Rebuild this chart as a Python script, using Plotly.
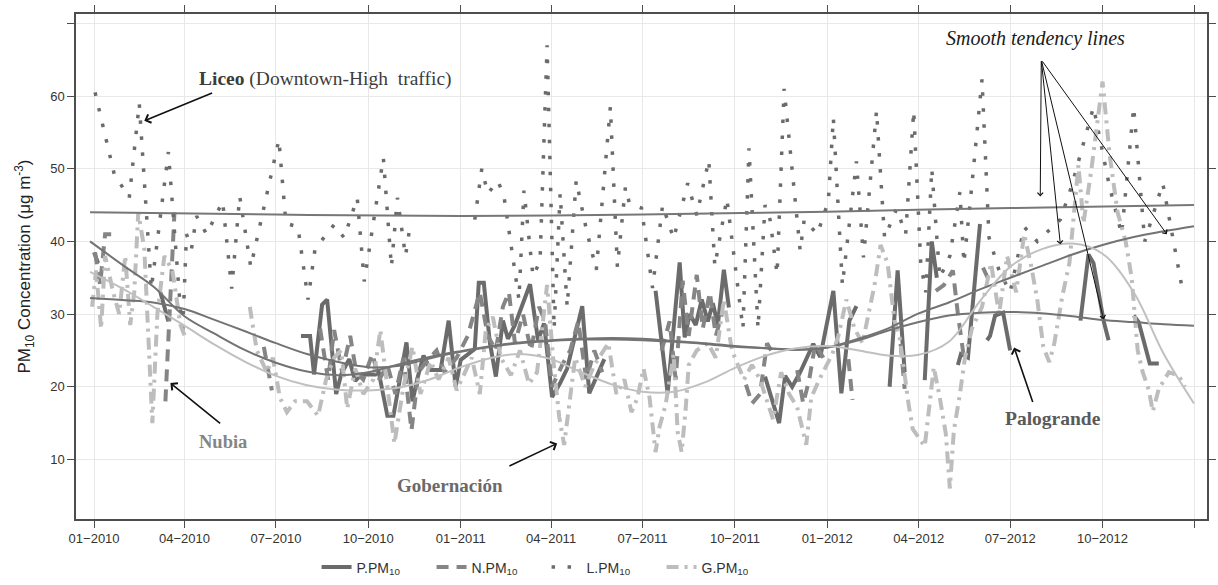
import plotly.graph_objects as go

# ---------------- data ----------------
P_DATES = ["2010-01-01", "2010-01-05", "2010-01-20", "2010-03-08", "2010-03-16", "2010-04-01",
           "2010-07-26", "2010-08-04", "2010-08-08", "2010-08-16", "2010-08-21", "2010-08-30",
           "2010-09-04", "2010-09-12", "2010-09-18", "2010-09-24", "2010-10-08", "2010-10-11",
           "2010-10-20", "2010-10-26", "2010-11-08", "2010-11-14", "2010-11-19", "2010-11-25",
           "2010-12-02", "2010-12-12", "2010-12-20", "2010-12-27", "2011-01-01", "2011-01-15",
           "2011-01-19", "2011-01-24", "2011-01-30", "2011-02-05", "2011-02-12", "2011-02-17",
           "2011-02-24", "2011-03-11", "2011-03-19", "2011-03-25", "2011-04-02", "2011-04-10",
           "2011-04-17", "2011-05-02", "2011-05-09", "2011-05-17", "2011-05-24", "2011-06-15",
           "2011-07-14", "2011-07-26", "2011-08-07", "2011-08-12", "2011-08-17", "2011-08-23",
           "2011-08-29", "2011-09-04", "2011-09-09", "2011-09-14", "2011-09-20", "2011-09-25",
           "2011-10-15", "2011-10-31", "2011-11-14", "2011-11-20", "2011-11-27", "2011-12-05",
           "2011-12-18", "2011-12-25", "2012-01-07", "2012-01-15", "2012-01-23", "2012-01-30",
           "2012-02-15", "2012-03-03", "2012-03-11", "2012-03-18", "2012-03-25", "2012-04-07",
           "2012-04-14", "2012-04-19", "2012-04-25", "2012-05-10", "2012-05-13", "2012-05-20",
           "2012-06-01", "2012-06-04", "2012-06-08", "2012-06-11", "2012-06-16", "2012-06-24",
           "2012-07-01", "2012-08-01", "2012-09-09", "2012-09-17", "2012-09-22", "2012-10-02",
           "2012-10-07", "2012-10-20", "2012-11-01", "2012-11-06", "2012-11-10", "2012-11-17",
           "2012-11-26"]
P_VALUES = [38.5, 37.0, None, 33.0, 29.0, None,
            27.0, 27.0, 21.7, 31.3, 32.0, 19.0,
            21.7, 23.8, 20.8, 21.7, 21.7, 22.3,
            16.0, 16.0, 26.1, 18.0, 21.2, 24.3,
            22.3, 22.3, 29.1, 20.0, 23.7, 25.2,
            34.3, 34.3, 26.1, 21.4, 29.1, 26.6,
            28.5, 34.1, 26.4, 28.7, 18.6, 20.5,
            22.5, 31.1, 19.1, 21.5, 23.8, None,
            33.2, 19.1, 37.1, 26.8, 30.0, 28.5,
            32.0, 29.0, 31.5, 28.5, 36.1, 30.9,
            None, 21.4, 15.0, 21.5, 20.0, 22.0,
            25.9, 24.1, 33.2, 19.1, 29.1, 31.1,
            None, 20.0, 36.0, 22.0, None, 20.9,
            40.0, 35.0, None, 23.0, 24.5, 24.0,
            42.4, None, 26.4, 27.0, 29.8, 30.2,
            25.0, None, 29.1, 38.2, 37.0, 29.1,
            26.4, None, 29.8, 28.9, 26.8, 23.2,
            23.2]

N_DATES = ["2010-01-02", "2010-01-07", "2010-01-12", "2010-01-18", "2010-02-01", "2010-03-13",
           "2010-03-22", "2010-04-01", "2010-06-19", "2010-06-27", "2010-07-10", "2010-08-14",
           "2010-08-22", "2010-08-28", "2010-09-05", "2010-09-13", "2010-09-19", "2010-09-26",
           "2010-10-05", "2010-10-12", "2010-10-20", "2010-10-28", "2010-11-05", "2010-11-13",
           "2010-11-20", "2010-11-28", "2010-12-08", "2010-12-16", "2010-12-28", "2011-01-08",
           "2011-01-20", "2011-01-28", "2011-02-05", "2011-02-12", "2011-02-18", "2011-02-24",
           "2011-03-04", "2011-03-12", "2011-03-20", "2011-03-26", "2011-04-02", "2011-04-12",
           "2011-04-20", "2011-04-28", "2011-05-06", "2011-05-14", "2011-05-22", "2011-06-10",
           "2011-07-20", "2011-07-28", "2011-08-03", "2011-08-10", "2011-08-16", "2011-08-24",
           "2011-08-30", "2011-09-06", "2011-09-12", "2011-09-18", "2011-10-05", "2011-10-12",
           "2011-10-18", "2011-10-26", "2011-11-02", "2011-11-08", "2011-11-20", "2011-12-02",
           "2011-12-08", "2011-12-14", "2011-12-20", "2011-12-28", "2012-01-10", "2012-01-22",
           "2012-01-26", "2012-02-10", "2012-03-14", "2012-03-18", "2012-04-01", "2012-04-18",
           "2012-04-26", "2012-05-05", "2012-05-10", "2012-05-16", "2012-05-25", "2012-06-04",
           "2012-06-10"]
N_VALUES = [38.5, 34.0, 41.0, 41.0, None, 18.0,
            44.0, None, 25.5, 19.5, None, 28.0,
            21.0, 27.8, 22.0, 27.0, 22.0, 21.0,
            24.5, 21.0, 23.0, 19.0, 24.0, 14.0,
            22.0, 23.5, 25.0, 22.0, 24.0, 27.0,
            33.0, 27.0, 25.0, 31.0, 33.0, 26.0,
            30.0, 25.0, 31.0, 29.0, 20.0, 23.0,
            25.0, 29.0, 21.0, 25.0, 22.0, None,
            25.0, 29.0, 21.0, 34.6, 27.0, 35.4,
            28.0, 33.0, 27.0, 30.0, None, 20.3,
            17.7, 19.0, 26.0, 24.5, None, 22.3,
            17.7, 21.0, 25.9, 24.0, None, 23.8,
            18.2, None, 25.9, 19.7, None, 33.2,
            34.0, 36.0, 30.0, 24.0, None, 36.4,
            34.6]

L_DATES = ["2010-01-02", "2010-01-21", "2010-02-05", "2010-02-15", "2010-02-27", "2010-03-16",
           "2010-03-30", "2010-04-03", "2010-04-08", "2010-04-13", "2010-04-23", "2010-05-09",
           "2010-05-18", "2010-05-26", "2010-06-06", "2010-07-04", "2010-07-11", "2010-07-23",
           "2010-08-02", "2010-08-09", "2010-08-28", "2010-09-07", "2010-09-20", "2010-09-27",
           "2010-10-16", "2010-10-24", "2010-10-30", "2010-11-07", "2010-11-12", "2010-12-10",
           "2011-01-15", "2011-01-22", "2011-01-28", "2011-02-07", "2011-02-13", "2011-02-28",
           "2011-03-05", "2011-03-14", "2011-03-21", "2011-03-28", "2011-04-04", "2011-04-10",
           "2011-04-17", "2011-04-26", "2011-05-06", "2011-05-16", "2011-05-30", "2011-06-06",
           "2011-06-14", "2011-06-18", "2011-06-30", "2011-07-11", "2011-07-21", "2011-08-01",
           "2011-08-15", "2011-08-24", "2011-09-05", "2011-09-11", "2011-09-23", "2011-10-09",
           "2011-10-15", "2011-10-24", "2011-10-31", "2011-11-05", "2011-11-12", "2011-11-19",
           "2011-12-05", "2011-12-09", "2011-12-22", "2012-01-02", "2012-01-07", "2012-01-16",
           "2012-01-30", "2012-02-06", "2012-02-19", "2012-02-27", "2012-03-10", "2012-03-19",
           "2012-03-27", "2012-04-03", "2012-04-08", "2012-04-14", "2012-04-22", "2012-05-02",
           "2012-05-12", "2012-05-16", "2012-05-22", "2012-06-03", "2012-06-10", "2012-06-20",
           "2012-07-01", "2012-07-15", "2012-07-28", "2012-08-20", "2012-08-31", "2012-09-22",
           "2012-09-30", "2012-10-08", "2012-10-20", "2012-11-01", "2012-11-12", "2012-11-25",
           "2012-11-30", "2012-12-20"]
L_VALUES = [60.5, 49.3, 46.0, 59.0, 33.5, 52.3,
            27.0, 41.0, 39.0, 43.5, 41.0, 45.5,
            33.5, 46.2, 36.5, 54.0, 42.5, 42.0,
            32.0, 39.0, 42.3, 40.5, 46.0, 34.5,
            51.5, 36.5, 46.0, 38.0, 42.5, None,
            43.0, 50.0, 46.6, 48.3, 46.3, 32.0,
            47.0, 35.2, 37.3, 67.0, 28.0, 46.6,
            31.0, 48.4, 41.7, 36.1, 58.5, 36.5,
            47.5, 45.2, 44.6, 33.6, 45.0, 40.4,
            48.0, 43.6, 51.2, 36.6, 45.9, 28.0,
            52.8, 28.0, 45.0, 43.0, 35.5, 61.0,
            38.7, 43.0, 41.0, 45.5, 57.0, 34.0,
            51.0, 37.8, 58.0, 40.5, 44.5, 41.0,
            58.0, 37.0, 33.0, 50.0, 35.0, 38.0,
            46.8, 37.0, 45.0, 62.3, 40.5, 36.0,
            33.0, 42.0, 40.0, 43.0, 47.5, 58.5,
            53.0, 47.5, 41.0, 58.5, 40.0, 46.0,
            48.0, 33.0]

G_DATES = ["2009-12-30", "2010-01-03", "2010-01-08", "2010-01-12", "2010-01-20", "2010-01-26",
           "2010-02-01", "2010-02-06", "2010-02-10", "2010-02-14", "2010-02-20", "2010-02-28",
           "2010-03-05", "2010-03-12", "2010-03-20", "2010-03-28", "2010-04-03", "2010-04-20",
           "2010-06-05", "2010-06-12", "2010-06-22", "2010-06-28", "2010-07-05", "2010-07-12",
           "2010-07-20", "2010-08-01", "2010-08-12", "2010-08-20", "2010-08-28", "2010-09-04",
           "2010-09-10", "2010-09-18", "2010-09-26", "2010-10-06", "2010-10-13", "2010-10-20",
           "2010-10-27", "2010-11-05", "2010-11-14", "2010-11-22", "2010-12-02", "2010-12-10",
           "2010-12-20", "2010-12-28", "2011-01-05", "2011-01-12", "2011-01-20", "2011-01-26",
           "2011-02-02", "2011-02-10", "2011-02-20", "2011-03-01", "2011-03-10", "2011-03-18",
           "2011-03-28", "2011-04-03", "2011-04-09", "2011-04-14", "2011-04-19", "2011-04-25",
           "2011-05-05", "2011-05-14", "2011-05-28", "2011-06-05", "2011-06-13", "2011-06-20",
           "2011-06-26", "2011-07-02", "2011-07-08", "2011-07-14", "2011-07-18", "2011-07-24",
           "2011-08-01", "2011-08-05", "2011-08-09", "2011-08-13", "2011-08-16", "2011-08-24",
           "2011-09-04", "2011-09-12", "2011-09-20", "2011-09-28", "2011-10-10", "2011-10-18",
           "2011-10-26", "2011-11-08", "2011-11-16", "2011-11-24", "2011-12-02", "2011-12-06",
           "2011-12-11", "2011-12-16", "2011-12-24", "2012-01-06", "2012-01-12", "2012-01-20",
           "2012-01-28", "2012-02-05", "2012-02-17", "2012-02-23", "2012-03-01", "2012-03-08",
           "2012-03-13", "2012-03-22", "2012-03-26", "2012-04-07", "2012-04-16", "2012-04-22",
           "2012-04-28", "2012-05-02", "2012-05-06", "2012-05-12", "2012-05-17", "2012-05-24",
           "2012-06-03", "2012-06-12", "2012-06-20", "2012-06-28", "2012-07-07", "2012-07-15",
           "2012-07-22", "2012-07-28", "2012-08-03", "2012-08-09", "2012-08-14", "2012-08-22",
           "2012-08-29", "2012-09-07", "2012-09-12", "2012-09-20", "2012-10-01", "2012-10-08",
           "2012-10-16", "2012-10-24", "2012-10-30", "2012-11-05", "2012-11-10", "2012-11-16",
           "2012-11-20", "2012-11-26", "2012-12-06", "2012-12-16", "2012-12-22"]
G_VALUES = [31.0, 36.0, 28.0, 38.0, 33.0, 30.0,
            38.0, 28.5, 33.0, 44.0, 39.0, 15.0,
            30.0, 38.0, 36.0, 28.5, 26.4, None,
            31.0, 25.0, 22.0, 24.0, 18.5, 16.5,
            18.0, 18.0, 16.0, 21.0, 24.0, 25.0,
            17.0, 22.5, 19.0, 21.0, 27.8, 20.0,
            12.2, 20.0, 25.5, 19.0, 23.5, 21.0,
            24.0, 19.5, 22.0, 24.0, 19.0, 27.8,
            29.6, 24.0, 21.6, 25.0, 20.4, 22.0,
            34.0, 24.0, 15.9, 12.0, 17.5, 24.0,
            20.0, 23.0, 26.0, 19.0, 21.0, 16.5,
            18.5, 22.5, 18.5, 11.0, 14.5, 17.5,
            24.5, 13.8, 11.0, 17.0, 23.0, 25.0,
            26.0, 24.0, 32.0, 25.0, 21.0, 23.0,
            21.0, 15.5, 22.0, 19.0, 17.2, 14.8,
            12.0, 18.5, 21.0, 24.5, 27.0, 32.0,
            28.0, 26.0, 34.0, 39.5, 37.0, 29.0,
            26.8, 17.5, 14.2, 11.8, 22.7, 18.5,
            13.5, 6.0, 14.0, 19.0, 24.0, 28.0,
            31.0, 37.0, 30.0, 38.0, 33.0, 41.0,
            36.6, 32.0, 25.5, 23.4, 26.0, 32.5,
            37.0, 50.5, 42.5, 50.0, 62.0, 52.0,
            44.0, 40.0, 35.0, 25.0, 22.0, 19.6,
            16.6, 19.7, 22.0, 21.5, 20.0]

# smooth tendency lines
SMOOTH_DATES = ["2009-12-28", "2010-02-01", "2010-03-01", "2010-04-01", "2010-05-01", "2010-06-01",
                "2010-07-01", "2010-08-01", "2010-09-01", "2010-10-01", "2010-11-01", "2010-12-01",
                "2011-01-01", "2011-02-01", "2011-03-01", "2011-04-01", "2011-05-01", "2011-06-01",
                "2011-07-01", "2011-08-01", "2011-09-01", "2011-10-01", "2011-11-01", "2011-12-01",
                "2012-01-01", "2012-02-01", "2012-03-01", "2012-04-01", "2012-05-01", "2012-06-01",
                "2012-07-01", "2012-08-01", "2012-09-01", "2012-10-01", "2012-11-01", "2012-12-01",
                "2012-12-31"]
N_SMOOTH = [40.0, 36.5, 33.8, 29.7, 27.3, 25.0, 23.3, 22.1, 21.6, 22.0, 23.1, 24.1,
            24.9, 25.6, 26.1, 26.4, 26.6, 26.7, 26.6, 26.3, 26.0, 25.6, 25.3, 25.1,
            25.4, 26.6, 28.0, 30.1, 31.6, 33.4, 35.0, 36.6, 38.2, 39.5, 40.6, 41.4, 42.1]
P_SMOOTH = [32.2, 31.9, 31.6, 30.7, 29.2, 27.6, 26.0, 24.5, 23.4, 22.7, 22.9, 23.9,
            24.8, 25.5, 26.0, 26.3, 26.5, 26.5, 26.4, 26.2, 25.9, 25.5, 25.3, 25.1,
            25.4, 26.4, 27.7, 28.9, 29.8, 30.2, 30.3, 30.1, 29.7, 29.2, 28.9, 28.6, 28.4]
G_SMOOTH = [35.8, 33.3, 31.0, 28.4, 25.8, 23.4, 21.5, 20.2, 19.6, 19.5, 19.9, 21.0,
            22.7, 24.0, 24.5, 23.8, 22.0, 20.3, 19.3, 19.3, 20.6, 22.6, 24.3, 25.3,
            25.6, 25.0, 24.3, 24.4, 26.2, 31.8, 36.5, 38.9, 39.7, 38.3, 33.0, 24.5, 17.7]
L_SMOOTH_DATES = ["2009-12-28", "2010-07-01", "2011-01-01", "2011-07-01", "2012-01-01",
                  "2012-07-01", "2012-12-31"]
L_SMOOTH = [44.0, 43.7, 43.5, 43.7, 44.1, 44.6, 45.0]

Y_TICKS = [10, 20, 30, 40, 50, 60, 70]
Y_TICK_TEXT = ["10", "20", "30", "40", "50", "60", ""]

# ---------------- styles ----------------
P_COLOR, N_COLOR, L_COLOR, G_COLOR = "#6b6b6b", "#858585", "#6b6b6b", "#bdbdbd"
SANS = "Liberation Sans, Arial, sans-serif"
SERIF = "Liberation Serif, Times New Roman, serif"

fig = go.Figure()
fig.add_trace(go.Scatter(x=P_DATES, y=P_VALUES, mode="lines", name="P.PM<sub>10</sub>",
                         line=dict(color=P_COLOR, width=4), connectgaps=False))
fig.add_trace(go.Scatter(x=N_DATES, y=N_VALUES, mode="lines", name="N.PM<sub>10</sub>",
                         line=dict(color=N_COLOR, width=4, dash="12px,8px"), connectgaps=False))
fig.add_trace(go.Scatter(x=L_DATES, y=L_VALUES, mode="lines", name="L.PM<sub>10</sub>",
                         line=dict(color=L_COLOR, width=3.5, dash="3.5px,12.5px"), connectgaps=False))
fig.add_trace(go.Scatter(x=G_DATES, y=G_VALUES, mode="lines", name="G.PM<sub>10</sub>",
                         line=dict(color=G_COLOR, width=4, dash="12px,6px,3px,6px"), connectgaps=False))

for xs, ys, col in [(SMOOTH_DATES, N_SMOOTH, "#737373"), (SMOOTH_DATES, P_SMOOTH, "#737373"),
                    (SMOOTH_DATES, G_SMOOTH, "#c0c0c0"), (L_SMOOTH_DATES, L_SMOOTH, "#777777")]:
    fig.add_trace(go.Scatter(x=xs, y=ys, mode="lines", showlegend=False, hoverinfo="skip",
                             line=dict(color=col, width=2, shape="spline", smoothing=1.0)))

# ---------------- annotations ----------------
ann = []
def label(x, y, text, size=19, color="#4d4d4d", xanchor="center", italic=False):
    ann.append(dict(x=x, y=y, xref="x", yref="y", text=text, showarrow=False,
                    xanchor=xanchor, yanchor="middle",
                    font=dict(family=SERIF, size=size, color=color,
                              style="italic" if italic else "normal")))

def arrow(x, y, ax, ay, width=1.6):
    ann.append(dict(x=x, y=y, ax=ax, ay=ay, xref="x", yref="y", axref="x", ayref="y",
                    text="", showarrow=True, arrowhead=4, arrowsize=1.1, arrowwidth=width,
                    arrowcolor="#111111", standoff=0, startstandoff=0))

label("2010-04-13", 62.3, "<b>Liceo</b> (Downtown-High  traffic)", size=19.5, color="#3c3c3c", xanchor="left")
arrow("2010-02-20", 56.6, "2010-04-30", 60.5)
label("2010-05-09", 12.4, "<b>Nubia</b>", size=18.5, color="#858585")
arrow("2010-03-18", 20.5, "2010-05-08", 14.8)
label("2010-12-21", 6.4, "<b>Gobernación</b>", size=19, color="#6a6a6a")
arrow("2011-04-07", 12.2, "2011-02-17", 9.0)
label("2012-08-13", 15.6, "<b>Palogrande</b>", size=19.5, color="#5a5a5a")
arrow("2012-07-05", 25.4, "2012-07-24", 17.7)
label("2012-07-26", 67.9, "Smooth tendency lines", size=20, color="#1a1a1a", italic=True)
for hx, hy in [("2012-07-31", 46.2), ("2012-08-20", 39.6), ("2012-10-02", 29.3), ("2012-12-04", 41.0)]:
    arrow(hx, hy, "2012-08-01", 65.0, width=1.0)

fig.update_layout(
    width=1218, height=585,
    margin=dict(l=76, r=2, t=14, b=62),
    paper_bgcolor="white", plot_bgcolor="white",
    font=dict(family=SANS, size=13, color="#333333"),
    annotations=ann,
    showlegend=True,
    legend=dict(orientation="h", x=0.2127, y=-0.096, xanchor="left", yanchor="middle",
                font=dict(family=SANS, size=14, color="#333333"),
                entrywidth=70, entrywidthmode="pixels", bgcolor="rgba(0,0,0,0)"),
)
fig.update_xaxes(type="date", range=["2009-12-14", "2013-01-13"],
                 tick0="2010-01-01", dtick="M3", tickformat="%m\u2212%Y",
                 showgrid=True, gridcolor="#e8e8e8", gridwidth=1,
                 showline=True, linecolor="#4d4d4d", linewidth=1.5, mirror="ticks",
                 ticks="outside", ticklen=7, tickcolor="#4d4d4d", tickwidth=1,
                 tickfont=dict(family=SANS, size=13, color="#333333"), zeroline=False)
fig.update_yaxes(range=[1.8, 71.3], tickvals=Y_TICKS, ticktext=Y_TICK_TEXT,
                 showgrid=True, gridcolor="#e8e8e8", gridwidth=1,
                 showline=True, linecolor="#4d4d4d", linewidth=1.5, mirror="ticks",
                 ticks="outside", ticklen=7, tickcolor="#4d4d4d", tickwidth=1,
                 tickfont=dict(family=SANS, size=13, color="#333333"), zeroline=False,
                 title=dict(text="PM<sub>10</sub> Concentration (μg m<sup>-3</sup>)",
                            font=dict(family=SANS, size=17, color="#222222"), standoff=15))

fig.write_html("out.html")
